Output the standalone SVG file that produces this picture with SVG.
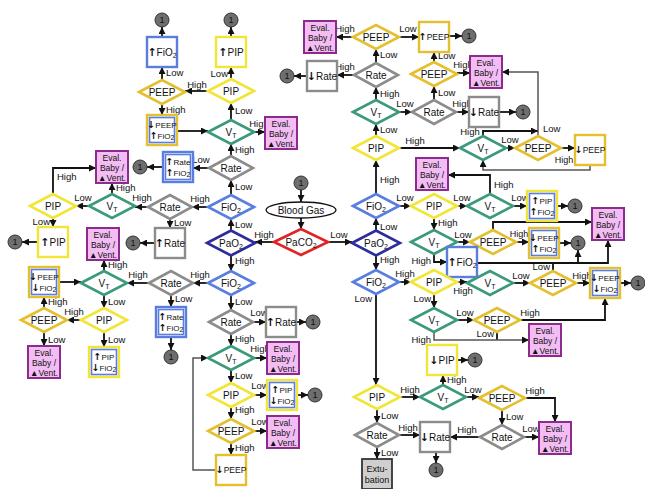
<svg xmlns="http://www.w3.org/2000/svg" xmlns:xlink="http://www.w3.org/1999/xlink" width="645" height="489" viewBox="0 0 645 489">
<style>
text{font-family:"Liberation Sans","DejaVu Sans",sans-serif;fill:#111}
.e{fill:none;stroke:#111;stroke-width:1.8;marker-end:url(#a)}
.e2{fill:none;stroke:#111;stroke-width:1.8}
.eg{fill:none;stroke:#555;stroke-width:1.5;marker-end:url(#a)}
.d{fill:#fff;stroke-width:2.6}
.bx{fill:#fff;stroke-width:2.4}
.bi{fill:none;stroke:#5a7ee0;stroke-width:1.6}
.ev{fill:#f3bdf3;stroke:#8b2b8b;stroke-width:2}
.yel{stroke:#f1e637}
.gold{stroke:#e4bf2e}
.grn{stroke:#3b9a7a}
.gry{stroke:#8c8c8c}
.blu{stroke:#5a7ee0}
.dbl{stroke:#2c2c9c}
.red{stroke:#e02424}
.nt{font-size:10px;text-anchor:middle}
.n9{font-size:8.5px;text-anchor:middle}
.st{font-size:8px;text-anchor:middle}
.et{font-size:8.5px;text-anchor:middle}
.lb{font-size:9.5px}
.m{text-anchor:middle}
.en{text-anchor:end}
.cr{fill:#6e6e6e;stroke:#333;stroke-width:1}
.cn{font-size:9px;text-anchor:middle}
.sb{font-size:7px}
.ar{font-family:"DejaVu Sans",sans-serif;font-weight:bold;font-size:11px}
.as{font-family:"DejaVu Sans",sans-serif;font-weight:bold;font-size:9.5px}
</style>
<defs>
<marker id="a" viewBox="0 0 10 10" refX="10" refY="5" markerWidth="7" markerHeight="7" markerUnits="userSpaceOnUse" orient="auto"><path d="M0,0 L10,5 L0,10 z" fill="#111"/></marker>
<polygon id="dm" points="-23,0 0,-12 23,0 0,12"/>
<polygon id="dr" points="-22,0 0,-12 22,0 0,12"/>
<polygon id="dp" points="-24,0 0,-12.5 24,0 0,12.5"/>
<rect id="bb" x="-15" y="-15" width="30" height="30"/>
<rect id="bn" x="-12.5" y="-12.5" width="25" height="25"/>
<rect id="be" x="-16" y="-16" width="32" height="32"/>
<circle id="cc" r="7"/>
</defs>

<g id="connectors">
<path class="e" d="M301,190 V202"/>
<path class="e" d="M301,218 V229"/>
<path class="e" d="M274,242 H255"/>
<path class="e" d="M328,242 H352"/>
<path class="e" d="M231,230.5 V219"/>
<path class="e" d="M231,195 V180"/>
<path class="e" d="M208,207 H192"/>
<path class="e" d="M170,219 V228"/>
<path class="e" d="M155,243 H140"/>
<path class="e" d="M208,168 H193"/>
<path class="e" d="M163,167 H147"/>
<path class="e" d="M231,156 V144"/>
<path class="e" d="M254,132 H265"/>
<path class="e" d="M231,120 V103"/>
<path class="e" d="M231,79 V67"/>
<path class="e" d="M231,37 V27"/>
<path class="e" d="M208,91 H185"/>
<path class="e" d="M162,80 V67"/>
<path class="e" d="M162,37 V27"/>
<path class="e" d="M162,104 V115"/>
<path class="e" d="M177,131 H208"/>
<path class="e" d="M148,207 H135"/>
<path class="e" d="M112,194 V183"/>
<path class="e" d="M89,206 H76"/>
<path class="e" d="M53,194 V168 H96"/>
<path class="e" d="M53,218 V227"/>
<path class="e" d="M38,242 H22"/>
<path class="e" d="M231,255.5 V271"/>
<path class="e" d="M208,283 H193"/>
<path class="e" d="M171,295 V307"/>
<path class="e" d="M171,337 V350"/>
<path class="e" d="M149,283 H127"/>
<path class="e" d="M104,271 V260"/>
<path class="e" d="M59,282 H81"/>
<path class="e" d="M104,295 V308"/>
<path class="e" d="M81,320 H67"/>
<path class="e" d="M44,308 V297"/>
<path class="e" d="M44,332 V346"/>
<path class="e" d="M104,332 V347"/>
<path class="e" d="M231,295 V310"/>
<path class="e" d="M253,322 H266"/>
<path class="e" d="M296,322 H306"/>
<path class="e" d="M231,334 V346"/>
<path class="e" d="M254,358 H267"/>
<path class="e" d="M231,370 V383"/>
<path class="e" d="M254,395 H267"/>
<path class="e" d="M297,395 H308"/>
<path class="e" d="M231,407 V419"/>
<path class="e" d="M254,431 H267"/>
<path class="e" d="M231,443 V455"/>
<path class="eg" d="M216,470 H193 V358 H208"/>
<path class="e" d="M376,230.5 V218"/>
<path class="e" d="M376,255.5 V270"/>
<path class="e" d="M376,194 V160"/>
<path class="e" d="M376,136 V124"/>
<path class="e" d="M376,100 V87"/>
<path class="e" d="M376,63 V49"/>
<path class="e" d="M353,37 H336"/>
<path class="e" d="M399,37 H419"/>
<path class="e" d="M449,36 H462"/>
<path class="e" d="M354,75 H337"/>
<path class="e" d="M307,76 H294"/>
<path class="e" d="M399,112 H412"/>
<path class="e" d="M434,100 V86"/>
<path class="e" d="M434,62 V52"/>
<path class="e" d="M457,73 H470"/>
<path class="e" d="M456,112 H469"/>
<path class="e" d="M499,112 H516"/>
<path class="e" d="M399,148 H460"/>
<path class="e" d="M483,136 V131 H538"/>
<path class="eg" d="M538,136 V72 H502"/>
<path class="e" d="M506,148 H515"/>
<path class="e" d="M561,148 H575"/>
<path class="eg" d="M590,165 V170 H483 V160"/>
<path class="e" d="M399,206 H411"/>
<path class="e" d="M457,206 H467"/>
<path class="e" d="M490,194 V175 H448"/>
<path class="e" d="M513,206 H527"/>
<path class="e" d="M557,206 H568"/>
<path class="e" d="M434,218 V230"/>
<path class="e" d="M457,242 H470"/>
<path class="e" d="M516,242 H529"/>
<path class="e" d="M559,243 H571"/>
<path class="e" d="M493,230 V222 H592"/>
<path class="e" d="M434,254 V262 H447"/>
<path class="e" d="M477,263 H578 V250"/>
<path class="e" d="M553,271 V263 H608 V240"/>
<path class="e" d="M399,282 H411"/>
<path class="e" d="M457,282 H467"/>
<path class="e" d="M513,283 H530"/>
<path class="e" d="M576,283 H590"/>
<path class="e" d="M620,283 H631"/>
<path class="e" d="M434,294 V308"/>
<path class="e" d="M457,320 H474"/>
<path class="e" d="M520,320 H605 V298"/>
<path class="e2" d="M497,332 V340"/>
<path class="eg" d="M434,332 V340 H529"/>
<path class="e" d="M376,294 V385"/>
<path class="e" d="M400,397 H420"/>
<path class="e" d="M443,385 V375"/>
<path class="e" d="M457,360 H468"/>
<path class="e" d="M466,397 H479"/>
<path class="e" d="M525,398 H555 V422"/>
<path class="e" d="M502,410 V425"/>
<path class="e" d="M524,437 H539"/>
<path class="e" d="M480,437 H450"/>
<path class="e" d="M377,409 V423"/>
<path class="e" d="M399,435 H420"/>
<path class="e" d="M436,452 V463"/>
<path class="e" d="M377,447 V459"/>
</g>

<g id="labels" class="lb">
<text x="264" y="238" class="m">High</text>
<text x="339" y="238" class="m">Low</text>
<text x="235" y="228">Low</text>
<text x="235" y="190">Low</text>
<text x="200" y="202" class="m">High</text>
<text x="174" y="226">Low</text>
<text x="201" y="163" class="m">Low</text>
<text x="235" y="153">High</text>
<text x="259" y="127" class="m">High</text>
<text x="235" y="114">Low</text>
<text x="228" y="77" class="en">Low</text>
<text x="197" y="88" class="m">High</text>
<text x="166" y="76">Low</text>
<text x="166" y="113">High</text>
<text x="142" y="201" class="m">High</text>
<text x="116" y="191">High</text>
<text x="83" y="201" class="m">Low</text>
<text x="57" y="180">High</text>
<text x="50" y="225" class="en">Low</text>
<text x="108" y="268">High</text>
<text x="138" y="278" class="m">High</text>
<text x="200" y="278" class="m">High</text>
<text x="175" y="302">Low</text>
<text x="108" y="305">Low</text>
<text x="74" y="315" class="m">High</text>
<text x="48" y="305">High</text>
<text x="48" y="343">Low</text>
<text x="108" y="343">Low</text>
<text x="235" y="305">Low</text>
<text x="259" y="316" class="m">Low</text>
<text x="235" y="342">High</text>
<text x="260" y="352" class="m">High</text>
<text x="235" y="379">Low</text>
<text x="260" y="389" class="m">Low</text>
<text x="235" y="413">High</text>
<text x="260" y="425" class="m">Low</text>
<text x="235" y="451">High</text>
<text x="235" y="264">High</text>
<text x="380" y="230">Low</text>
<text x="380" y="263">High</text>
<text x="380" y="183">High</text>
<text x="380" y="133">Low</text>
<text x="380" y="97">High</text>
<text x="380" y="58">Low</text>
<text x="345" y="32" class="m">High</text>
<text x="408" y="32" class="m">Low</text>
<text x="345" y="70" class="m">High</text>
<text x="405" y="107" class="m">Low</text>
<text x="438" y="96">Low</text>
<text x="438" y="59">Low</text>
<text x="463" y="68" class="m">High</text>
<text x="462" y="107" class="m">High</text>
<text x="415" y="144" class="m">High</text>
<text x="470" y="135" class="m">High</text>
<text x="543" y="132">Low</text>
<text x="510" y="143" class="m">Low</text>
<text x="564" y="163" class="m" style="font-size:9px">High</text>
<text x="405" y="201" class="m">Low</text>
<text x="462" y="201" class="m">Low</text>
<text x="494" y="188">High</text>
<text x="520" y="201" class="m">Low</text>
<text x="438" y="226">High</text>
<text x="463" y="238" class="m">Low</text>
<text x="519" y="237" class="m" style="font-size:9px">High</text>
<text x="431" y="264" class="en">High</text>
<text x="550" y="270" class="en">Low</text>
<text x="405" y="277" class="m">High</text>
<text x="463" y="294" class="m">High</text>
<text x="521" y="279" class="m">Low</text>
<text x="582" y="279" class="m">High</text>
<text x="431" y="302" class="en">Low</text>
<text x="465" y="316" class="m">Low</text>
<text x="530" y="316" class="m">High</text>
<text x="494" y="337" class="en">Low</text>
<text x="431" y="343" class="en">High</text>
<text x="372" y="302" class="en">Low</text>
<text x="410" y="393" class="m">High</text>
<text x="447" y="383">High</text>
<text x="473" y="393" class="m">Low</text>
<text x="535" y="394" class="m">High</text>
<text x="506" y="420">Low</text>
<text x="531" y="432" class="m">Low</text>
<text x="467" y="433" class="m">High</text>
<text x="381" y="419">Low</text>
<text x="408" y="431" class="m">High</text>
<text x="381" y="456">Low</text>
</g>

<!-- center -->
<g id="c0" transform="translate(301,183)"><use xlink:href="#cc" class="cr"/><text class="cn" y="3">1</text></g>
<g id="bloodgas"><ellipse cx="301" cy="210" rx="35" ry="8" fill="#fff" stroke="#111" stroke-width="1.3"/><text class="nt" x="301" y="213.5">Blood Gas</text></g>
<g id="paco2" transform="translate(301,242)"><polygon points="-27,0 0,-13 27,0 0,13" class="d red"/><text class="nt" y="3.5">PaCO<tspan class="sb" dy="2">2</tspan></text></g>
<g id="pao2L" transform="translate(231,243)"><use xlink:href="#dp" class="d dbl"/><text class="nt" y="3.5">PaO<tspan class="sb" dy="2">2</tspan></text></g>
<g id="pao2R" transform="translate(376,243)"><use xlink:href="#dp" class="d dbl"/><text class="nt" y="3.5">PaO<tspan class="sb" dy="2">2</tspan></text></g>

<!-- left upper column -->
<g id="fio2L1" transform="translate(231,207)"><use xlink:href="#dm" class="d blu"/><text class="nt" y="3.5">FiO<tspan class="sb" dy="2">2</tspan></text></g>
<g id="rateL1" transform="translate(231,168)"><use xlink:href="#dr" class="d gry"/><text class="nt" y="3.5">Rate</text></g>
<g id="vtL1" transform="translate(231,132)"><use xlink:href="#dm" class="d grn"/><text class="nt" y="3.5">V<tspan class="sb" dy="2">T</tspan></text></g>
<g id="pipL1" transform="translate(231,91)"><use xlink:href="#dm" class="d yel"/><text class="nt" y="3.5">PIP</text></g>
<g id="pipBoxL1" transform="translate(231,52)"><use xlink:href="#bb" class="bx yel"/><text class="nt" y="3.5"><tspan class="ar">↑</tspan>PIP</text></g>
<g id="cL1" transform="translate(231,20)"><use xlink:href="#cc" class="cr"/><text class="cn" y="3">1</text></g>
<g id="peepL1" transform="translate(162,92)"><use xlink:href="#dm" class="d gold"/><text class="nt" y="3.5">PEEP</text></g>
<g id="fio2BoxL1" transform="translate(162,52)"><use xlink:href="#bb" class="bx blu"/><text class="nt" y="3.5"><tspan class="ar">↑</tspan>FiO<tspan class="sb" dy="2">2</tspan></text></g>
<g id="cL2" transform="translate(162,20)"><use xlink:href="#cc" class="cr"/><text class="cn" y="3">1</text></g>
<g id="peepFio2BoxL1" transform="translate(162,130)"><use xlink:href="#bb" class="bx gold"/><use xlink:href="#bn" class="bi"/><text class="st" y="-2"><tspan class="as">↓</tspan>PEEP</text><text class="st" y="9"><tspan class="as">↑</tspan>FiO<tspan class="sb" dy="1">2</tspan></text></g>
<g id="evalL1" transform="translate(281,133)"><use xlink:href="#be" class="ev"/><text class="et" y="-6">Eval.</text><text class="et" y="4">Baby /</text><text class="et" y="14">▲Vent.</text></g>
<g id="rateFio2BoxL1" transform="translate(178,167)"><use xlink:href="#bb" class="bx blu"/><use xlink:href="#bn" class="bi"/><text class="st" y="-2"><tspan class="as">↑</tspan>Rate</text><text class="st" y="9"><tspan class="as">↑</tspan>FiO<tspan class="sb" dy="1">2</tspan></text></g>
<g id="cL3" transform="translate(140,167)"><use xlink:href="#cc" class="cr"/><text class="cn" y="3">1</text></g>
<g id="rateL2" transform="translate(170,207)"><use xlink:href="#dr" class="d gry"/><text class="nt" y="3.5">Rate</text></g>
<g id="rateBoxL1" transform="translate(170,243)"><use xlink:href="#bb" class="bx gry"/><text class="nt" y="3.5"><tspan class="ar">↑</tspan>Rate</text></g>
<g id="cL4" transform="translate(133,243)"><use xlink:href="#cc" class="cr"/><text class="cn" y="3">1</text></g>
<g id="vtL2" transform="translate(112,206)"><use xlink:href="#dm" class="d grn"/><text class="nt" y="3.5">V<tspan class="sb" dy="2">T</tspan></text></g>
<g id="evalL2" transform="translate(112,167)"><use xlink:href="#be" class="ev"/><text class="et" y="-6">Eval.</text><text class="et" y="4">Baby /</text><text class="et" y="14">▲Vent.</text></g>
<g id="pipL2" transform="translate(53,206)"><use xlink:href="#dm" class="d yel"/><text class="nt" y="3.5">PIP</text></g>
<g id="pipBoxL2" transform="translate(53,242)"><use xlink:href="#bb" class="bx yel"/><text class="nt" y="3.5"><tspan class="ar">↑</tspan>PIP</text></g>
<g id="cL5" transform="translate(15,242)"><use xlink:href="#cc" class="cr"/><text class="cn" y="3">1</text></g>

<!-- left lower -->
<g id="fio2L2" transform="translate(231,283)"><use xlink:href="#dm" class="d blu"/><text class="nt" y="3.5">FiO<tspan class="sb" dy="2">2</tspan></text></g>
<g id="rateL3" transform="translate(171,283)"><use xlink:href="#dr" class="d gry"/><text class="nt" y="3.5">Rate</text></g>
<g id="rateFio2BoxL2" transform="translate(171,322)"><use xlink:href="#bb" class="bx blu"/><use xlink:href="#bn" class="bi"/><text class="st" y="-2"><tspan class="as">↑</tspan>Rate</text><text class="st" y="9"><tspan class="as">↑</tspan>FiO<tspan class="sb" dy="1">2</tspan></text></g>
<g id="cL6" transform="translate(171,357)"><use xlink:href="#cc" class="cr"/><text class="cn" y="3">1</text></g>
<g id="vtL3" transform="translate(104,283)"><use xlink:href="#dm" class="d grn"/><text class="nt" y="3.5">V<tspan class="sb" dy="2">T</tspan></text></g>
<g id="evalL3" transform="translate(103,244)"><use xlink:href="#be" class="ev"/><text class="et" y="-6">Eval.</text><text class="et" y="4">Baby /</text><text class="et" y="14">▲Vent.</text></g>
<g id="peepFio2BoxL2" transform="translate(44,282)"><use xlink:href="#bb" class="bx gold"/><use xlink:href="#bn" class="bi"/><text class="st" y="-2"><tspan class="as">↓</tspan>PEEP</text><text class="st" y="9"><tspan class="as">↓</tspan>FiO<tspan class="sb" dy="1">2</tspan></text></g>
<g id="pipL3" transform="translate(104,320)"><use xlink:href="#dm" class="d yel"/><text class="nt" y="3.5">PIP</text></g>
<g id="peepL2" transform="translate(44,320)"><use xlink:href="#dm" class="d gold"/><text class="nt" y="3.5">PEEP</text></g>
<g id="evalL4" transform="translate(44,362)"><use xlink:href="#be" class="ev"/><text class="et" y="-6">Eval.</text><text class="et" y="4">Baby /</text><text class="et" y="14">▲Vent.</text></g>
<g id="pipFio2BoxL1" transform="translate(104,362)"><use xlink:href="#bb" class="bx yel"/><use xlink:href="#bn" class="bi"/><text class="st" y="-2"><tspan class="as">↑</tspan>PIP</text><text class="st" y="9"><tspan class="as">↓</tspan>FiO<tspan class="sb" dy="1">2</tspan></text></g>

<!-- center lower column -->
<g id="rateL4" transform="translate(231,322)"><use xlink:href="#dr" class="d gry"/><text class="nt" y="3.5">Rate</text></g>
<g id="rateBoxL2" transform="translate(281,322)"><use xlink:href="#bb" class="bx gry"/><text class="nt" y="3.5"><tspan class="ar">↑</tspan>Rate</text></g>
<g id="cL7" transform="translate(313,322)"><use xlink:href="#cc" class="cr"/><text class="cn" y="3">1</text></g>
<g id="vtL4" transform="translate(231,358)"><use xlink:href="#dm" class="d grn"/><text class="nt" y="3.5">V<tspan class="sb" dy="2">T</tspan></text></g>
<g id="evalL5" transform="translate(283,358)"><use xlink:href="#be" class="ev"/><text class="et" y="-6">Eval.</text><text class="et" y="4">Baby /</text><text class="et" y="14">▲Vent.</text></g>
<g id="pipL4" transform="translate(231,395)"><use xlink:href="#dm" class="d yel"/><text class="nt" y="3.5">PIP</text></g>
<g id="pipFio2BoxL2" transform="translate(282,395)"><use xlink:href="#bb" class="bx yel"/><use xlink:href="#bn" class="bi"/><text class="st" y="-2"><tspan class="as">↑</tspan>PIP</text><text class="st" y="9"><tspan class="as">↓</tspan>FiO<tspan class="sb" dy="1">2</tspan></text></g>
<g id="cL8" transform="translate(315,395)"><use xlink:href="#cc" class="cr"/><text class="cn" y="3">1</text></g>
<g id="peepL3" transform="translate(231,431)"><use xlink:href="#dm" class="d gold"/><text class="nt" y="3.5">PEEP</text></g>
<g id="evalL6" transform="translate(283,432)"><use xlink:href="#be" class="ev"/><text class="et" y="-6">Eval.</text><text class="et" y="4">Baby /</text><text class="et" y="14">▲Vent.</text></g>
<g id="peepBoxL" transform="translate(231,470)"><use xlink:href="#bb" class="bx gold"/><text class="n9" y="3"><tspan class="as">↓</tspan>PEEP</text></g>

<!-- right upper -->
<g id="fio2R1" transform="translate(376,206)"><use xlink:href="#dm" class="d blu"/><text class="nt" y="3.5">FiO<tspan class="sb" dy="2">2</tspan></text></g>
<g id="pipR1" transform="translate(376,148)"><use xlink:href="#dm" class="d yel"/><text class="nt" y="3.5">PIP</text></g>
<g id="vtR1" transform="translate(376,112)"><use xlink:href="#dm" class="d grn"/><text class="nt" y="3.5">V<tspan class="sb" dy="2">T</tspan></text></g>
<g id="rateR1" transform="translate(376,75)"><use xlink:href="#dr" class="d gry"/><text class="nt" y="3.5">Rate</text></g>
<g id="peepR1" transform="translate(376,37)"><use xlink:href="#dm" class="d gold"/><text class="nt" y="3.5">PEEP</text></g>
<g id="evalR1" transform="translate(320,37)"><use xlink:href="#be" class="ev"/><text class="et" y="-6">Eval.</text><text class="et" y="4">Baby /</text><text class="et" y="14">▲Vent.</text></g>
<g id="rateBoxR1" transform="translate(322,76)"><use xlink:href="#bb" class="bx gry"/><text class="nt" y="3.5"><tspan class="ar">↓</tspan>Rate</text></g>
<g id="cR1" transform="translate(287,76)"><use xlink:href="#cc" class="cr"/><text class="cn" y="3">1</text></g>
<g id="rateR2" transform="translate(434,112)"><use xlink:href="#dr" class="d gry"/><text class="nt" y="3.5">Rate</text></g>
<g id="peepR2" transform="translate(434,74)"><use xlink:href="#dm" class="d gold"/><text class="nt" y="3.5">PEEP</text></g>
<g id="peepBoxR1" transform="translate(434,37)"><use xlink:href="#bb" class="bx gold"/><text class="n9" y="3"><tspan class="as">↑</tspan>PEEP</text></g>
<g id="cR2" transform="translate(469,36)"><use xlink:href="#cc" class="cr"/><text class="cn" y="3">1</text></g>
<g id="evalR2" transform="translate(486,72)"><use xlink:href="#be" class="ev"/><text class="et" y="-6">Eval.</text><text class="et" y="4">Baby /</text><text class="et" y="14">▲Vent.</text></g>
<g id="rateBoxR2" transform="translate(484,112)"><use xlink:href="#bb" class="bx gry"/><text class="nt" y="3.5"><tspan class="ar">↓</tspan>Rate</text></g>
<g id="cR3" transform="translate(523,112)"><use xlink:href="#cc" class="cr"/><text class="cn" y="3">1</text></g>
<g id="vtR2" transform="translate(483,148)"><use xlink:href="#dm" class="d grn"/><text class="nt" y="3.5">V<tspan class="sb" dy="2">T</tspan></text></g>
<g id="peepR3" transform="translate(538,148)"><use xlink:href="#dm" class="d gold"/><text class="nt" y="3.5">PEEP</text></g>
<g id="peepBoxR2" transform="translate(590,150)"><use xlink:href="#bb" class="bx gold"/><text class="n9" y="3"><tspan class="as">↓</tspan>PEEP</text></g>
<g id="evalR3" transform="translate(432,174)"><use xlink:href="#be" class="ev"/><text class="et" y="-6">Eval.</text><text class="et" y="4">Baby /</text><text class="et" y="14">▲Vent.</text></g>

<!-- right middle -->
<g id="pipR2" transform="translate(434,206)"><use xlink:href="#dm" class="d yel"/><text class="nt" y="3.5">PIP</text></g>
<g id="vtR3" transform="translate(490,206)"><use xlink:href="#dm" class="d grn"/><text class="nt" y="3.5">V<tspan class="sb" dy="2">T</tspan></text></g>
<g id="pipFio2BoxR1" transform="translate(542,206)"><use xlink:href="#bb" class="bx yel"/><use xlink:href="#bn" class="bi"/><text class="st" y="-2"><tspan class="as">↑</tspan>PIP</text><text class="st" y="9"><tspan class="as">↑</tspan>FiO<tspan class="sb" dy="1">2</tspan></text></g>
<g id="cR4" transform="translate(575,206)"><use xlink:href="#cc" class="cr"/><text class="cn" y="3">1</text></g>
<g id="vtR4" transform="translate(434,242)"><use xlink:href="#dm" class="d grn"/><text class="nt" y="3.5">V<tspan class="sb" dy="2">T</tspan></text></g>
<g id="peepR4" transform="translate(493,242)"><use xlink:href="#dm" class="d gold"/><text class="nt" y="3.5">PEEP</text></g>
<g id="peepFio2BoxR1" transform="translate(544,243)"><use xlink:href="#bb" class="bx gold"/><use xlink:href="#bn" class="bi"/><text class="st" y="-2"><tspan class="as">↓</tspan>PEEP</text><text class="st" y="9"><tspan class="as">↑</tspan>FiO<tspan class="sb" dy="1">2</tspan></text></g>
<g id="cR5" transform="translate(578,243)"><use xlink:href="#cc" class="cr"/><text class="cn" y="3">1</text></g>
<g id="evalR4" transform="translate(608,224)"><use xlink:href="#be" class="ev"/><text class="et" y="-6">Eval.</text><text class="et" y="4">Baby /</text><text class="et" y="14">▲Vent.</text></g>
<g id="fio2BoxR" transform="translate(462,262)"><use xlink:href="#bb" class="bx blu"/><text class="nt" y="3.5"><tspan class="ar">↑</tspan>FiO<tspan class="sb" dy="2">2</tspan></text></g>
<g id="fio2R2" transform="translate(376,282)"><use xlink:href="#dm" class="d blu"/><text class="nt" y="3.5">FiO<tspan class="sb" dy="2">2</tspan></text></g>
<g id="pipR3" transform="translate(434,282)"><use xlink:href="#dm" class="d yel"/><text class="nt" y="3.5">PIP</text></g>
<g id="vtR5" transform="translate(490,283)"><use xlink:href="#dm" class="d grn"/><text class="nt" y="3.5">V<tspan class="sb" dy="2">T</tspan></text></g>
<g id="peepR5" transform="translate(553,283)"><use xlink:href="#dm" class="d gold"/><text class="nt" y="3.5">PEEP</text></g>
<g id="peepFio2BoxR2" transform="translate(605,283)"><use xlink:href="#bb" class="bx gold"/><use xlink:href="#bn" class="bi"/><text class="st" y="-2"><tspan class="as">↓</tspan>PEEP</text><text class="st" y="9"><tspan class="as">↓</tspan>FiO<tspan class="sb" dy="1">2</tspan></text></g>
<g id="cR6" transform="translate(638,283)"><use xlink:href="#cc" class="cr"/><text class="cn" y="3">1</text></g>
<g id="vtR6" transform="translate(434,320)"><use xlink:href="#dm" class="d grn"/><text class="nt" y="3.5">V<tspan class="sb" dy="2">T</tspan></text></g>
<g id="peepR6" transform="translate(497,320)"><use xlink:href="#dm" class="d gold"/><text class="nt" y="3.5">PEEP</text></g>
<g id="evalR5" transform="translate(545,340)"><use xlink:href="#be" class="ev"/><text class="et" y="-6">Eval.</text><text class="et" y="4">Baby /</text><text class="et" y="14">▲Vent.</text></g>

<!-- right lower -->
<g id="pipBoxR" transform="translate(442,360)"><use xlink:href="#bb" class="bx yel"/><text class="nt" y="3.5"><tspan class="ar">↓</tspan>PIP</text></g>
<g id="cR7" transform="translate(475,360)"><use xlink:href="#cc" class="cr"/><text class="cn" y="3">1</text></g>
<g id="pipR4" transform="translate(377,397)"><use xlink:href="#dm" class="d yel"/><text class="nt" y="3.5">PIP</text></g>
<g id="vtR7" transform="translate(443,397)"><use xlink:href="#dm" class="d grn"/><text class="nt" y="3.5">V<tspan class="sb" dy="2">T</tspan></text></g>
<g id="peepR7" transform="translate(502,398)"><use xlink:href="#dm" class="d gold"/><text class="nt" y="3.5">PEEP</text></g>
<g id="rateR3" transform="translate(502,437)"><use xlink:href="#dr" class="d gry"/><text class="nt" y="3.5">Rate</text></g>
<g id="evalR6" transform="translate(555,438)"><use xlink:href="#be" class="ev"/><text class="et" y="-6">Eval.</text><text class="et" y="4">Baby /</text><text class="et" y="14">▲Vent.</text></g>
<g id="rateR4" transform="translate(377,435)"><use xlink:href="#dr" class="d gry"/><text class="nt" y="3.5">Rate</text></g>
<g id="rateBoxR3" transform="translate(435,437)"><use xlink:href="#bb" class="bx gry"/><text class="nt" y="3.5"><tspan class="ar">↓</tspan>Rate</text></g>
<g id="cR8" transform="translate(436,470)"><use xlink:href="#cc" class="cr"/><text class="cn" y="3">1</text></g>
<g id="extubation" transform="translate(377,474)"><rect x="-15" y="-15" width="30" height="30" fill="#cfcfcf" stroke="#333" stroke-width="1.8"/><text class="st" y="-2" style="font-size:9px">Extu-</text><text class="st" y="9" style="font-size:9px">bation</text></g>
</svg>
